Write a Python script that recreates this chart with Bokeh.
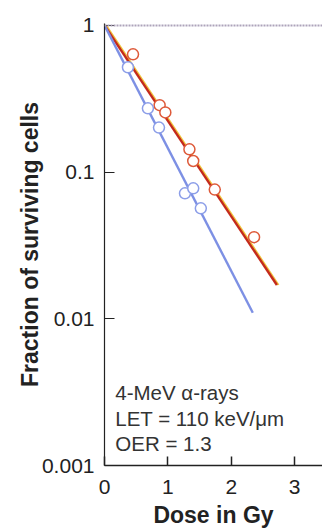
import math
from bokeh.plotting import figure
from bokeh.models import FixedTicker, Span, Label, Range1d
from bokeh.transform import dodge
from bokeh.embed import file_html
from bokeh.resources import INLINE

# ---- data ----
red_dose = [0.45, 0.87, 0.96, 1.34, 1.40, 1.74, 2.36]
red_surv = [0.635, 0.286, 0.255, 0.143, 0.119, 0.076, 0.036]
blue_dose = [0.37, 0.685, 0.86, 1.27, 1.40, 1.52]
blue_surv = [0.518, 0.272, 0.201, 0.0716, 0.0775, 0.0566]

red_fit_dose = [0.0, 2.72]
red_fit_surv = [1.0, 0.017]
blue_fit_dose = [0.0, 2.34]
blue_fit_surv = [1.0, 0.011]

x_ticks = [0, 1, 2, 3]
y_ticks = [0.001, 0.01, 0.1, 1]
y_tick_labels = ["0.001", "0.01", "0.1", "1"]
notes = ["4-MeV \u03b1-rays", "LET = 110 keV/\u03bcm", "OER = 1.3"]
note_y = [0.00314, 0.00209, 0.00141]

FONT = "Liberation Sans"
TOP = 1.03  # small headroom so the dotted line at 1 is not clipped
PX_PER_DECADE = 147
top_pad = PX_PER_DECADE * math.log10(TOP)

p = figure(width=322, height=530, y_axis_type="log",
           x_range=Range1d(0, 3.44), y_range=Range1d(0.001, TOP),
           output_backend="svg", toolbar_location=None,
           min_border_left=104, min_border_right=0,
           min_border_top=int(round(25 - top_pad)), min_border_bottom=64)
p.outline_line_color = None
p.xgrid.visible = False
p.ygrid.visible = False
p.background_fill_color = "white"
p.border_fill_color = "white"

# reference line at 1
p.add_layout(Span(location=1, dimension="width", line_color="#ada3ba",
                  line_dash="2 1", line_width=2))

# fits
p.line(x=dodge("x", 0.025), y="y", source=dict(x=red_fit_dose, y=red_fit_surv),
       line_color="#f0c33c", line_width=2.0)
p.line(red_fit_dose, red_fit_surv, line_color="#c42a1c", line_width=2.4)
p.line(blue_fit_dose, blue_fit_surv, line_color="#7d90e4", line_width=2.4)

# data points
p.scatter(red_dose, red_surv, marker="circle", size=11, fill_color="white",
          line_color="#de5a3a", line_width=1.5)
p.scatter(blue_dose, blue_surv, marker="circle", size=11, fill_color="white",
          line_color="#8c9ee8", line_width=1.5)

# axes
xa = p.xaxis[0]
xa.ticker = FixedTicker(ticks=x_ticks)
xa.minor_tick_line_color = None
xa.major_tick_in = 9
xa.major_tick_out = 0
xa.axis_line_width = 1.5
xa.axis_line_color = "#222222"
xa.major_tick_line_color = "#222222"
xa.major_tick_line_width = 1.5
xa.major_label_text_font = FONT
xa.major_label_text_font_size = "21px"
xa.major_label_text_color = "#222222"
xa.major_label_standoff = 14
xa.axis_label = "Dose in Gy"
xa.axis_label_text_font = FONT
xa.axis_label_text_font_style = "bold"
xa.axis_label_text_font_size = "23px"
xa.axis_label_text_color = "#222222"
xa.axis_label_standoff = 5

ya = p.yaxis[0]
ya.ticker = FixedTicker(ticks=y_ticks)
ya.minor_tick_line_color = None
ya.major_tick_in = 10
ya.major_tick_out = 0
ya.axis_line_width = 1.2
ya.axis_line_color = "#222222"
ya.major_tick_line_color = "#222222"
ya.major_tick_line_width = 1.2
ya.major_label_overrides = {v: s for v, s in zip(y_ticks, y_tick_labels)}
ya.major_label_text_font = FONT
ya.major_label_text_font_size = "21px"
ya.major_label_text_color = "#222222"
ya.major_label_standoff = 10
ya.axis_label = "Fraction of surviving cells"
ya.axis_label_text_font = FONT
ya.axis_label_text_font_style = "bold"
ya.axis_label_text_font_size = "23px"
ya.axis_label_text_color = "#222222"
ya.axis_label_standoff = -4

for txt, yv in zip(notes, note_y):
    p.add_layout(Label(x=0.17, y=yv, text=txt, text_font=FONT,
                       text_font_size="20.5px", text_color="#333333",
                       text_baseline="alphabetic", text_align="left"))

open("out.html", "w").write(file_html(p, INLINE))
